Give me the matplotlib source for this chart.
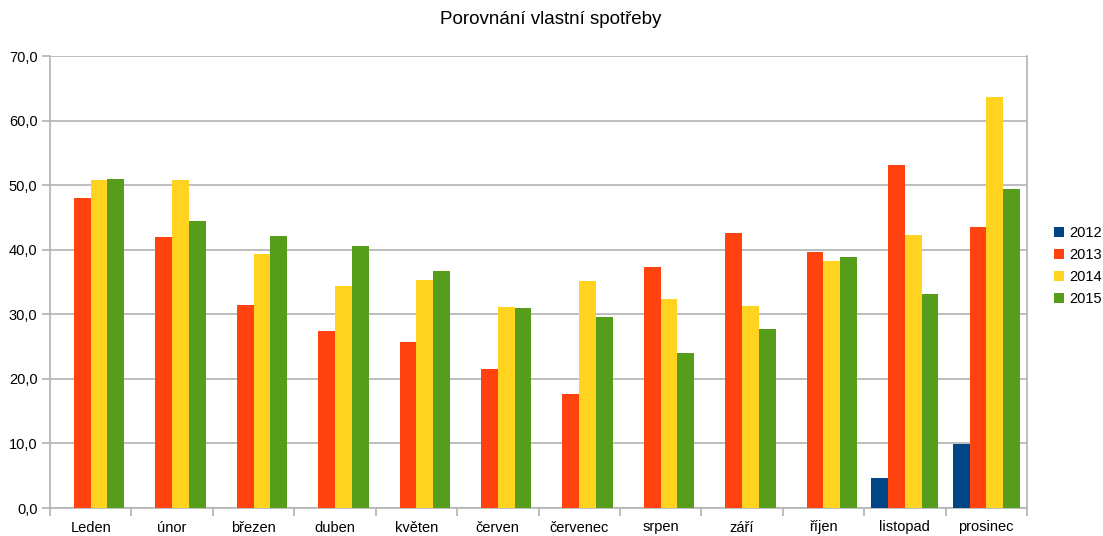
import numpy as np
import matplotlib.pyplot as plt
import matplotlib.ticker as mticker
from matplotlib.patches import Patch

plt.rcParams["font.family"] = ["Liberation Sans", "DejaVu Sans"]

# Monate und Jahreswerte (vlastní spotřeba)
mesice = ["Leden", "únor", "březen", "duben", "květen", "červen",
          "červenec", "srpen", "září", "říjen", "listopad", "prosinec"]
roky = ["2012", "2013", "2014", "2015"]
v2012 = [0, 0, 0, 0, 0, 0, 0, 0, 0, 0, 4.6, 9.9]
v2013 = [48.0, 42.0, 31.4, 27.4, 25.7, 21.5, 17.7, 37.3, 42.6, 39.6, 53.1, 43.5]
v2014 = [50.8, 50.8, 39.3, 34.4, 35.3, 31.1, 35.2, 32.4, 31.3, 38.3, 42.3, 63.7]
v2015 = [51.0, 44.4, 42.1, 40.6, 36.7, 31.0, 29.6, 24.0, 27.7, 38.9, 33.1, 49.4]

BARVY = ["#004586", "#ff420e", "#ffd320", "#579d1c"]
MRIZKA = "#b3b3b3"

fig = plt.figure(figsize=(11.03, 5.36), dpi=100)
ax = fig.add_axes([50 / 1103, 28 / 536, 977 / 1103, 452 / 536])

x = np.arange(len(mesice))
sirka = 0.206
for i, (rok, hodnoty) in enumerate(zip(roky, [v2012, v2013, v2014, v2015])):
    ax.bar(x - 1.5 * sirka + i * sirka, hodnoty, width=sirka,
           color=BARVY[i], label=rok, zorder=3)

ax.set_xlim(-0.5, len(mesice) - 0.5)
ax.set_ylim(0, 70)
ax.yaxis.set_major_locator(mticker.MultipleLocator(10))
ax.yaxis.set_major_formatter(mticker.FuncFormatter(lambda v, _: f"{v:.1f}".replace(".", ",")))
ax.grid(axis="y", color=MRIZKA, linewidth=1.2, zorder=0)

ax.set_xticks(x)
ax.set_xticklabels(mesice)
ax.set_xticks(np.arange(-0.5, len(mesice)), minor=True)
ax.tick_params(axis="x", which="major", length=0, labelsize=10.5, pad=9)
ax.tick_params(axis="x", which="minor", length=6, color=MRIZKA, width=1.2)
ax.tick_params(axis="y", length=6, color=MRIZKA, width=1.2, labelsize=10.5, pad=3)

for strana in ["left", "right", "bottom"]:
    ax.spines[strana].set_color(MRIZKA)
    ax.spines[strana].set_linewidth(1.2)
ax.spines["top"].set_visible(False)

fig.suptitle("Porovnání vlastní spotřeby", x=551 / 1103, y=1 - 20 / 536,
             va="center", fontsize=13.5)

fig.legend(handles=[Patch(facecolor=c, label=r) for c, r in zip(BARVY, roky)],
           loc="center left", bbox_to_anchor=(1054 / 1103, 1 - 266 / 536),
           frameon=False, fontsize=10.5, handlelength=0.7, handleheight=0.7,
           handletextpad=0.35, labelspacing=0.55, borderpad=0,
           borderaxespad=0)

fig.savefig("out.png", dpi=100)
